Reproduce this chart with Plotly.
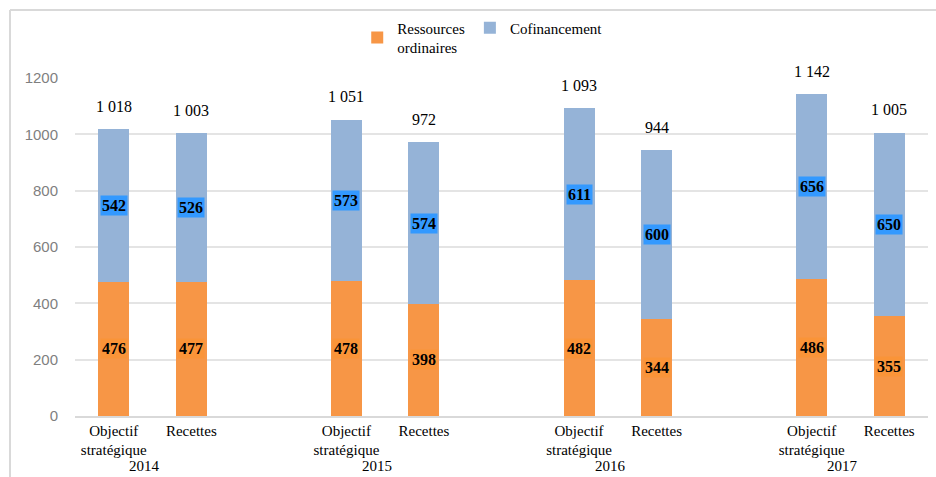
import plotly.graph_objects as go

years = ["2014", "2015", "2016", "2017"]
bar_types = ["Objectif<br>stratégique", "Recettes"]
ressources = [476, 477, 478, 398, 482, 344, 486, 355]
cofinancement = [542, 526, 573, 574, 611, 600, 656, 650]
totals = ["1 018", "1 003", "1 051", "972", "1 093", "944", "1 142", "1 005"]
y_ticks = [0, 200, 400, 600, 800, 1000, 1200]

ORANGE = "#F79646"
BLUE = "#95B3D7"
SERIF = "Liberation Serif, Times New Roman, serif"

# positions: two bars per year, one empty slot between years
xs = []
labels = []
for g in range(len(years)):
    for i, bt in enumerate(bar_types):
        xs.append(g * 3 + i)
        labels.append(bt)

fig = go.Figure()
fig.add_trace(go.Bar(x=xs, y=ressources, name="Ressources<br>ordinaires",
                     marker=dict(color=ORANGE, line=dict(width=0)), width=0.4))
fig.add_trace(go.Bar(x=xs, y=cofinancement, name="Cofinancement",
                     marker=dict(color=BLUE, line=dict(width=0)), width=0.4))

annotations = []
for x, r, c, t in zip(xs, ressources, cofinancement, totals):
    annotations.append(dict(x=x, y=r / 2, text=f"<b>{r}</b>", showarrow=False,
                            font=dict(family=SERIF, size=16, color="black"),
                            bgcolor="#FA9438", borderpad=1))
    annotations.append(dict(x=x, y=r + c / 2, text=f"<b>{c}</b>", showarrow=False,
                            font=dict(family=SERIF, size=16, color="black"),
                            bgcolor="#3399FF", borderpad=1))
    annotations.append(dict(x=x, y=r + c, text=t, showarrow=False, yshift=23,
                            font=dict(family=SERIF, size=16, color="black")))
for g, yr in enumerate(years):
    annotations.append(dict(x=g * 3 + 0.4, y=-(476 - 416) / 338, xref="x", yref="paper",
                            text=yr, showarrow=False, yanchor="bottom",
                            font=dict(family=SERIF, size=15, color="black")))

fig.update_layout(
    width=936, height=477,
    margin=dict(l=75, r=8, t=78, b=61),
    paper_bgcolor="white", plot_bgcolor="white",
    barmode="stack",
    showlegend=True,
    legend=dict(orientation="h", x=0.478, xanchor="center", y=1.12, yanchor="middle",
                font=dict(family=SERIF, size=15, color="black"),
                itemwidth=30, traceorder="normal", bgcolor="rgba(0,0,0,0)"),
    annotations=annotations,
    shapes=[
        dict(type="line", xref="paper", yref="paper",
             x0=-(75 - 10) / 853, x1=1.02, y0=1 + (78 - 10) / 338, y1=1 + (78 - 10) / 338,
             line=dict(color="#D9D9D9", width=2)),
        dict(type="line", xref="paper", yref="paper",
             x0=-(75 - 10) / 853, x1=-(75 - 10) / 853, y0=1 + (78 - 10) / 338, y1=-0.2,
             line=dict(color="#D9D9D9", width=2)),
    ],
)
fig.update_xaxes(range=[-0.5, 10.5], tickmode="array", tickvals=xs, ticktext=labels,
                 tickfont=dict(family=SERIF, size=15, color="black"),
                 showline=True, linecolor="#D9D9D9", linewidth=1.5,
                 showgrid=False, zeroline=False, ticks="")
fig.update_yaxes(range=[0, 1200], tickvals=y_ticks,
                 tickfont=dict(family="Liberation Sans, Arial, sans-serif", size=15, color="#7F7F7F"),
                 showgrid=True, gridcolor="#E4E4E4", gridwidth=1.5, zeroline=False,
                 ticklabelstandoff=16)

fig.write_html("out.html")
